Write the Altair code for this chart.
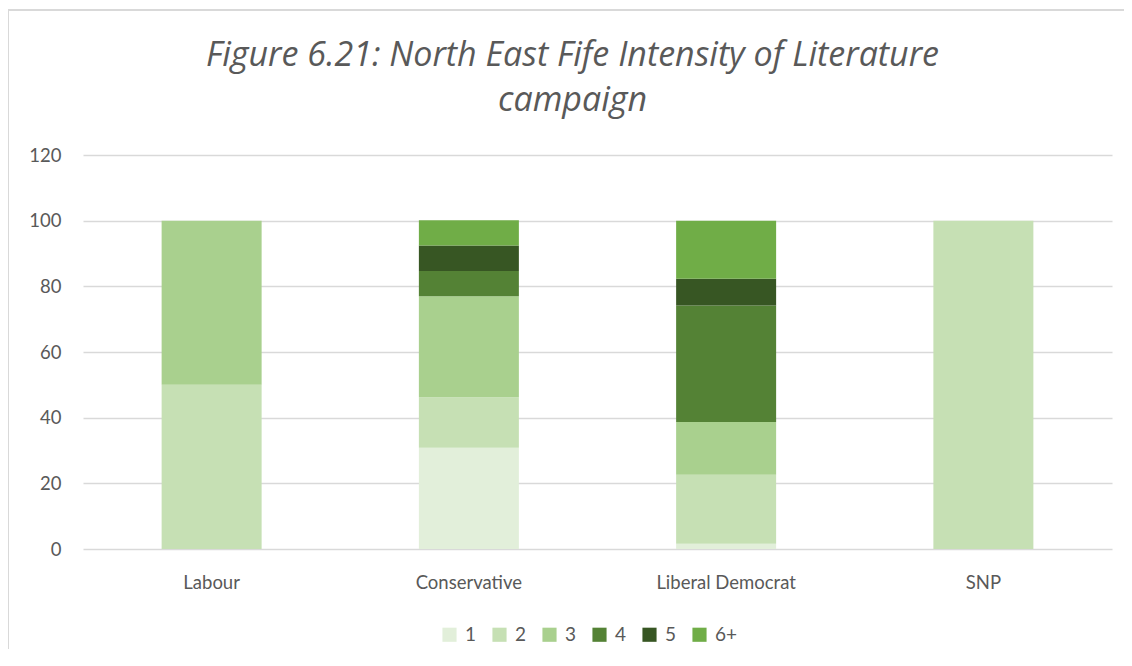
import altair as alt
import pandas as pd

parties = ["Labour", "Conservative", "Liberal Democrat", "SNP"]
levels = ["1", "2", "3", "4", "5", "6+"]
colors = ["#E2EFDA", "#C6E0B4", "#A9D08E", "#548235", "#375623", "#70AD47"]

s1 = [0, 30.8, 1.6, 0]
s2 = [50, 15.4, 21.0, 100]
s3 = [50, 30.8, 16.1, 0]
s4 = [0, 7.7, 35.5, 0]
s5 = [0, 7.7, 8.1, 0]
s6 = [0, 7.7, 17.7, 0]
y_ticks = [0, 20, 40, 60, 80, 100, 120]

series = [s1, s2, s3, s4, s5, s6]
rows = []
for lv_i, (lv, vals) in enumerate(zip(levels, series)):
    for p, v in zip(parties, vals):
        rows.append({"party": p, "level": lv, "order": lv_i, "value": v})
df = pd.DataFrame(rows)

FONT = "Lato"
GREY = "#595959"

bars = alt.Chart(df).mark_bar(size=100).encode(
    x=alt.X("party:N", sort=parties, title=None,
            scale=alt.Scale(paddingInner=0.61, paddingOuter=0.305),
            axis=alt.Axis(labelAngle=0, labelFontSize=18.5, labelColor=GREY,
                          labelFont=FONT, ticks=False, domain=False,
                          labelPadding=24)),
    y=alt.Y("value:Q", stack="zero", title=None,
            scale=alt.Scale(domain=[0, 120]),
            axis=alt.Axis(values=y_ticks, labelFontSize=18.5, labelColor=GREY,
                          labelFont=FONT, ticks=False, domain=False,
                          gridColor="#D9D9D9", gridWidth=1.3, labelPadding=22)),
    color=alt.Color("level:N", sort=levels,
                    scale=alt.Scale(domain=levels, range=colors),
                    legend=alt.Legend(title=None, orient="none", direction="horizontal",
                                      legendX=357, legendY=470,
                                      symbolType="square", symbolSize=200,
                                      symbolStrokeWidth=0,
                                      labelFontSize=19, labelColor=GREY, labelFont=FONT,
                                      columnPadding=13, labelOffset=6)),
    order=alt.Order("order:Q"),
)

frame_df = pd.DataFrame({"a": [0]})
border_top = alt.Chart(frame_df).mark_rule(color="#D9D9D9", strokeWidth=2).encode(
    x=alt.value(-76), x2=alt.value(1200), y=alt.value(-145)
)
border_left = alt.Chart(frame_df).mark_rule(color="#D9D9D9", strokeWidth=2).encode(
    x=alt.value(-75), y=alt.value(-146), y2=alt.value(600)
)

chart = alt.layer(border_top, border_left, bars).properties(
    width=1029, height=394,
    padding={"left": 75, "top": 147, "right": 12, "bottom": 100},
    autosize=alt.AutoSizeParams(type="none"),
    title=alt.TitleParams(
        text=["Figure 6.21: North East Fife Intensity of Literature", "campaign"],
        font="Open Sans", fontSize=34, fontStyle="italic", fontWeight="normal", color=GREY,
        anchor="middle", frame="group", dx=-25, offset=-110, lineHeight=45,
    ),
).configure_view(stroke=None)

chart.save("out.html", embed_options={"renderer": "svg", "actions": False})
